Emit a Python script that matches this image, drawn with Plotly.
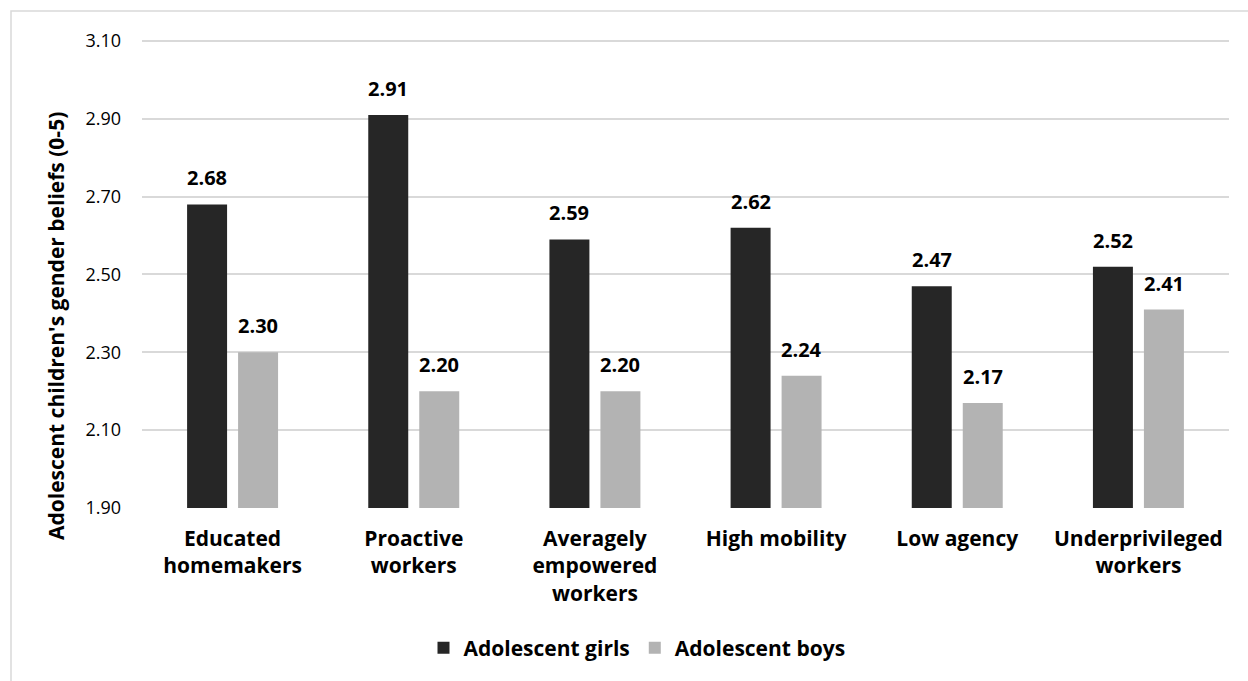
import plotly.graph_objects as go

# Profiles of mothers (x categories) and mean gender-belief scores of their children
categories = [
    "Educated<br>homemakers",
    "Proactive<br>workers",
    "Averagely<br>empowered<br>workers",
    "High mobility",
    "Low agency",
    "Underprivileged<br>workers",
]
girls = [2.68, 2.91, 2.59, 2.62, 2.47, 2.52]
boys = [2.30, 2.20, 2.20, 2.24, 2.17, 2.41]
y_ticks = [1.90, 2.10, 2.30, 2.50, 2.70, 2.90, 3.10]

FONT = "Open Sans"
GIRL_COLOR = "#262626"
BOY_COLOR = "#b3b3b3"
GRID = "#d9d9d9"

W, H = 1248, 681
L, R, T, B = 142, 19, 40, 173
plot_w = W - L - R
plot_h = H - T - B

fig = go.Figure()
fig.add_trace(go.Bar(name="Adolescent girls", x=categories, y=girls,
                     marker=dict(color=GIRL_COLOR, line=dict(width=0))))
fig.add_trace(go.Bar(name="Adolescent boys", x=categories, y=boys,
                     marker=dict(color=BOY_COLOR, line=dict(width=0))))

bargap = 0.437
bargroupgap = 0.216
slot_px = plot_w / len(categories) * (1 - bargap) / 2

# Value labels above each bar
annotations = []
for series, sign in ((girls, -1), (boys, 1)):
    for cat, v in zip(categories, series):
        annotations.append(dict(
            x=cat, y=v, xref="x", yref="y", text=f"<b>{v:.2f}</b>",
            showarrow=False, yanchor="bottom", xanchor="center",
            xshift=sign * slot_px / 2, yshift=11,
            font=dict(family=FONT, size=20, color="#000000"),
        ))

# Vertical axis title, centred a little below the plot middle
annotations.append(dict(
    x=(56 - L) / plot_w, y=1 - (326 - T) / plot_h, xref="paper", yref="paper",
    text="<b>Adolescent children's gender beliefs (0-5)</b>", textangle=-90,
    showarrow=False, xanchor="center", yanchor="middle",
    font=dict(family=FONT, size=21, color="#000000"),
))

# Chart frame (only its top and left edges fall inside the page)
shapes = [dict(
    type="rect", xref="paper", yref="paper",
    x0=(11 - L) / plot_w, x1=(W + 10 - L) / plot_w,
    y0=1 - (H + 10 - T) / plot_h, y1=1 - (11 - T) / plot_h,
    line=dict(color=GRID, width=1.5), fillcolor="rgba(0,0,0,0)", layer="below",
)]

fig.update_layout(
    width=W, height=H,
    margin=dict(l=L, r=R, t=T, b=B),
    paper_bgcolor="white", plot_bgcolor="white",
    barmode="group", bargap=bargap, bargroupgap=bargroupgap,
    font=dict(family=FONT, color="#000000"),
    showlegend=True,
    legend=dict(
        orientation="h", x=(637 - L) / plot_w, xanchor="center",
        y=1 - (648 - T) / plot_h, yanchor="middle",
        font=dict(family=FONT, size=21, color="#000000", weight="bold"),
        itemsizing="constant", traceorder="normal",
    ),
    annotations=annotations,
    shapes=shapes,
)
fig.update_xaxes(
    showline=False, showgrid=False, zeroline=False,
    tickfont=dict(family=FONT, size=21, color="#000000", weight="bold"),
    ticks="", ticklabelstandoff=16, tickangle=0,
)
# Upper bound sits a hair above 3.10 so the top grid line is kept
fig.update_yaxes(
    range=[1.8999, 3.1026], tickvals=y_ticks, ticktext=[f"{t:.2f}" for t in y_ticks],
    showgrid=True, gridcolor=GRID, gridwidth=1.5, zeroline=False,
    showline=False, ticks="", ticklabelstandoff=20,
    tickfont=dict(family=FONT, size=18, color="#000000"),
)

fig.write_html("out.html")
